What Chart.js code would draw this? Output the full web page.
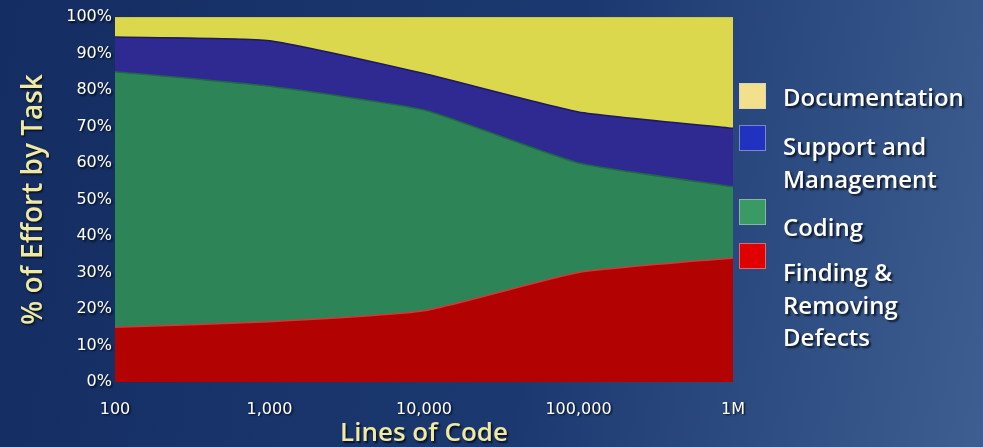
<!DOCTYPE html>
<html lang="en">
<head>
<meta charset="UTF-8">
<title>% of Effort by Task</title>
<style>
html, body { margin: 0; padding: 0; }
body {
    width: 983px; height: 447px; overflow: hidden; position: relative;
    background: linear-gradient(100deg, #142d62 0%, #1b3970 55%, #3e5e91 100%);
    font-family: "Open Sans", sans-serif;
}
#wrap { position: absolute; left: 0; top: 0; width: 983px; height: 447px; }
.swatch { position: absolute; left: 739px; width: 27px; height: 26px; border: 1px solid rgba(200,200,220,0.55); box-sizing: border-box; }
.label { position: absolute; left: 783px; color: #fff; font-weight: 600; font-size: 24px; line-height: 32.5px;
         text-shadow: 2px 2px 2px rgba(0,0,0,0.7); white-space: nowrap; }
</style>
</head>
<body>
<div id="wrap"><canvas id="effortChart"></canvas></div>
<div id="legend"></div>
<script src="https://cdn.jsdelivr.net/npm/chart.js"></script>
<script>
// Lines of code (x axis) and % of effort per task, stacked bottom to top
const linesOfCode = [100, 1000, 10000, 100000, 1000000];
const xTickLabels = ['100', '1,000', '10,000', '100,000', '1M'];
const defects = [15, 16.5, 19.5, 30, 34];
const coding = [70, 64.5, 55, 30, 19.5];
const support = [9.5, 12.5, 10, 14, 16];
const documentation = [5.5, 6.5, 15.5, 26, 30.5];

const seriesNames = [['Finding &', 'Removing', 'Defects'], ['Coding'], ['Support and', 'Management'], ['Documentation']];
const seriesValues = [defects, coding, support, documentation];

const fills = ['#b30202', '#2d8557', '#2f2a92', '#dcd84e'];
const edges = ['#d03a3a', '#1f6a45', '#1e1a60', '#c9c040'];
const swatchColors = ['#e00000', '#3a9a63', '#2232c0', '#f3e08c'];

const datasets = seriesValues.map((vals, i) => ({
    label: seriesNames[i].join(' '),
    data: vals.map((v, j) => ({ x: linesOfCode[j], y: v })),
    backgroundColor: fills[i],
    borderColor: edges[i],
    borderWidth: 1.5,
    pointRadius: 0,
    fill: i === 0 ? 'origin' : '-1',
    tension: 0.15
}));

// shadow under axis text
const textShadow = {
    id: 'textShadow',
    beforeDraw(chart) {
        const c = chart.ctx;
        c.shadowColor = 'rgba(0,0,0,0.75)';
        c.shadowOffsetX = 1.5;
        c.shadowOffsetY = 1.5;
        c.shadowBlur = 2;
    },
    beforeDatasetsDraw(chart) {
        const c = chart.ctx;
        c.shadowColor = 'transparent';
        c.shadowOffsetX = 0;
        c.shadowOffsetY = 0;
        c.shadowBlur = 0;
    }
};

const ctx = document.getElementById('effortChart').getContext('2d');
const effortChart = new Chart(ctx, {
    type: 'line',
    data: { datasets: datasets },
    options: {
        responsive: true,
        maintainAspectRatio: false,
        animation: false,
        layout: { padding: { left: 0, right: 250, top: 17, bottom: 0 } },
        plugins: { legend: { display: false }, tooltip: { enabled: false } },
        scales: {
            x: {
                type: 'logarithmic',
                min: linesOfCode[0],
                max: linesOfCode[linesOfCode.length - 1],
                grid: { display: false },
                border: { display: false },
                afterBuildTicks: (s) => { s.ticks = linesOfCode.map(v => ({ value: v })); },
                afterFit: (s) => { s.height = 65; },
                ticks: {
                    color: '#ffffff',
                    font: { family: 'DejaVu Sans', size: 16 },
                    padding: 10,
                    maxRotation: 0,
                    autoSkip: false,
                    callback: (v) => xTickLabels[linesOfCode.indexOf(v)]
                },
                title: {
                    display: true,
                    text: 'Lines of Code',
                    color: '#efe9a4',
                    font: { family: 'Open Sans', size: 26, weight: '600', lineHeight: 1 },
                    padding: { top: 0, bottom: 0 }
                }
            },
            y: {
                stacked: true,
                min: 0,
                max: 100,
                grid: { display: false, drawTicks: false },
                border: { display: false },
                afterFit: (s) => { s.width = 115; },
                ticks: {
                    stepSize: 10,
                    color: '#ffffff',
                    font: { family: 'DejaVu Sans', size: 16 },
                    padding: 3,
                    callback: (v) => v + '%'
                },
                title: {
                    display: true,
                    text: '% of Effort by Task',
                    color: '#efe9a4',
                    font: { family: 'Open Sans', size: 28, weight: '600', lineHeight: 1 },
                    padding: { top: 20, bottom: 0 }
                }
            }
        }
    },
    plugins: [textShadow]
});

// legend, top to bottom = reverse of the stack
const swatchTops = [243, 199, 125, 83];
const labelTops = [256, 211, 130, 81];
const legend = document.getElementById('legend');
seriesNames.forEach((name, i) => {
    const sw = document.createElement('div');
    sw.className = 'swatch';
    sw.style.top = swatchTops[i] + 'px';
    sw.style.background = swatchColors[i];
    legend.appendChild(sw);
    const lb = document.createElement('div');
    lb.className = 'label';
    lb.style.top = labelTops[i] + 'px';
    name.forEach((line, k) => {
        if (k > 0) lb.appendChild(document.createElement('br'));
        lb.appendChild(document.createTextNode(line));
    });
    legend.appendChild(lb);
});
</script>
</body>
</html>
